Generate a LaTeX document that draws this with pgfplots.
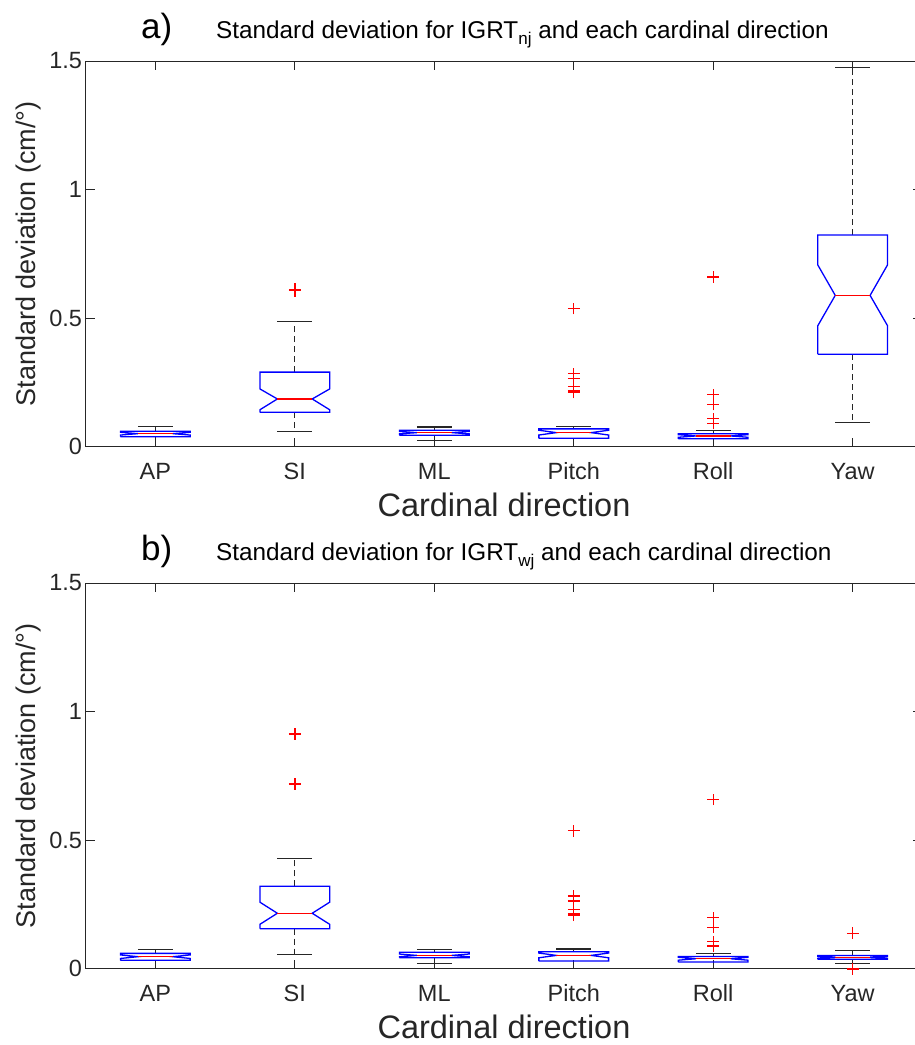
\documentclass[border=0pt]{standalone}
\usepackage{fontspec}
\setmainfont{Liberation Sans}
\usepackage{pgfplots}
\pgfplotsset{compat=1.18}
\definecolor{axgray}{rgb}{0.15,0.15,0.15}
\definecolor{mblue}{rgb}{0,0,1}
\definecolor{mred}{rgb}{1,0,0}

% notched box: x, lower whisker, q1, notch low, median, notch high, q3, upper whisker
\newcommand{\nbox}[8]{%
  \pgfmathsetmacro\xl{#1-0.25}\pgfmathsetmacro\xr{#1+0.25}%
  \pgfmathsetmacro\il{#1-0.125}\pgfmathsetmacro\ir{#1+0.125}%
  \edef\tmp{%
    \noexpand\addplot[whisk] coordinates {(#1,#7)(#1,#8)};
    \noexpand\addplot[whisk] coordinates {(#1,#3)(#1,#2)};
    \noexpand\addplot[cap] coordinates {(\il,#8)(\ir,#8)};
    \noexpand\addplot[cap] coordinates {(\il,#2)(\ir,#2)};
    \noexpand\addplot[nb] coordinates {(\xl,#3)(\xl,#4)(\il,#5)(\xl,#6)(\xl,#7)(\xr,#7)(\xr,#6)(\ir,#5)(\xr,#4)(\xr,#3)(\xl,#3)};
    \noexpand\addplot[med] coordinates {(\il,#5)(\ir,#5)};
  }\tmp}

% outlier "+" at (x, y), drawn as two short strokes
\newcommand{\outl}[2]{%
  \pgfmathsetmacro\pl{#1-0.042}\pgfmathsetmacro\pr{#1+0.042}%
  \pgfmathsetmacro\pb{#2-0.0226}\pgfmathsetmacro\pt{#2+0.0226}%
  \edef\tmp{%
    \noexpand\addplot[ol] coordinates {(\pl,#2)(\pr,#2)};
    \noexpand\addplot[ol] coordinates {(#1,\pb)(#1,\pt)};
  }\tmp}

\pgfplotsset{
  sdaxis/.style={
    scale only axis, width=836.8pt, height=385.5pt,
    xmin=0.5, xmax=6.5, ymin=0, ymax=1.5,
    clip=false,
    xtick={1,2,3,4,5,6}, xticklabels={AP,SI,ML,Pitch,Roll,Yaw},
    ytick={0,0.5,1,1.5}, yticklabels={0,0.5,1,1.5},
    tick align=inside, major tick length=9pt,
    axis line style={color=axgray, line width=1pt},
    every tick/.style={color=axgray, line width=1pt},
    ticklabel style={font=\fontsize{23.5}{28}\selectfont, text=axgray},
    xticklabel style={anchor=base, yshift=-33pt},
    yticklabel style={anchor=east},
    ylabel={Standard deviation (cm/°)},
    ylabel style={at={(axis description cs:-0.0684,0.5)}, anchor=center, rotate=0,
      font=\fontsize{27}{32}\selectfont, text=axgray},
    xlabel={Cardinal direction},
    xlabel style={at={(axis description cs:0.5,0)}, anchor=base, yshift=-70pt,
      inner sep=0pt, font=\fontsize{32.5}{38}\selectfont, text=axgray},
  },
  whisk/.style={black!85, line width=1.1pt, dash pattern=on 6pt off 4pt},
  cap/.style={black!85, line width=1.1pt},
  nb/.style={mblue, line width=1.3pt, line join=miter},
  med/.style={mred, line width=1.3pt},
  ol/.style={mred, line width=1.4pt},
}

\begin{document}
\begin{tikzpicture}
\useasboundingbox (0,0) rectangle (915pt,-1045pt);

% ---------- a) ----------
\begin{axis}[sdaxis, at={(85.6pt,-446.5pt)}, anchor=south west]
\nbox{1}{0}{0.038}{0.0446}{0.050}{0.0554}{0.059}{0.078}
\nbox{2}{0.059}{0.133}{0.143}{0.185}{0.224}{0.2895}{0.487}
\nbox{3}{0.022}{0.044}{0.0492}{0.054}{0.0588}{0.063}{0.076}
\nbox{4}{0}{0.032}{0.0447}{0.054}{0.0633}{0.0686}{0.079}
\nbox{5}{0}{0.030}{0.0359}{0.041}{0.0461}{0.050}{0.061}
\nbox{6}{0.094}{0.359}{0.470}{0.588}{0.7066}{0.823}{1.476}
\outl{2}{0.612}\outl{2}{0.606}
\outl{4}{0.537}\outl{4}{0.283}\outl{4}{0.264}\outl{4}{0.234}\outl{4}{0.216}\outl{4}{0.210}
\outl{5}{0.659}\outl{5}{0.203}\outl{5}{0.163}\outl{5}{0.109}\outl{5}{0.089}
\end{axis}

% ---------- b) ----------
\begin{axis}[sdaxis, at={(85.6pt,-968.5pt)}, anchor=south west]
\nbox{1}{0}{0.032}{0.0391}{0.046}{0.0529}{0.059}{0.075}
\nbox{2}{0.054}{0.155}{0.172}{0.215}{0.258}{0.320}{0.429}
\nbox{3}{0.019}{0.042}{0.0456}{0.051}{0.0564}{0.063}{0.075}
\nbox{4}{0}{0.029}{0.0418}{0.051}{0.0602}{0.065}{0.076}
\nbox{5}{0}{0.025}{0.0324}{0.038}{0.0436}{0.047}{0.058}
\nbox{6}{0.019}{0.036}{0.0398}{0.0436}{0.0474}{0.051}{0.071}
\outl{2}{0.912}\outl{2}{0.718}
\outl{4}{0.536}\outl{4}{0.282}\outl{4}{0.263}\outl{4}{0.230}\outl{4}{0.212}\outl{4}{0.207}
\outl{5}{0.658}\outl{5}{0.199}\outl{5}{0.160}\outl{5}{0.104}\outl{5}{0.0875}
\outl{6}{0.137}\outl{6}{-0.002}
\end{axis}

% titles
\node[anchor=base west, inner sep=0pt, font=\fontsize{35}{40}\selectfont, text=black]
  at (141pt,-38.3pt) {a)};
\node[anchor=base west, inner sep=0pt, font=\fontsize{24.3}{28}\selectfont, text=black]
  at (216pt,-38.3pt) {Standard deviation for IGRT\raisebox{-6pt}{\fontsize{17}{20}\selectfont nj} and each cardinal direction};
\node[anchor=base west, inner sep=0pt, font=\fontsize{35}{40}\selectfont, text=black]
  at (141pt,-560.3pt) {b)};
\node[anchor=base west, inner sep=0pt, font=\fontsize{24.3}{28}\selectfont, text=black]
  at (216pt,-560.3pt) {Standard deviation for IGRT\raisebox{-6pt}{\fontsize{17}{20}\selectfont wj} and each cardinal direction};
\end{tikzpicture}
\end{document}
